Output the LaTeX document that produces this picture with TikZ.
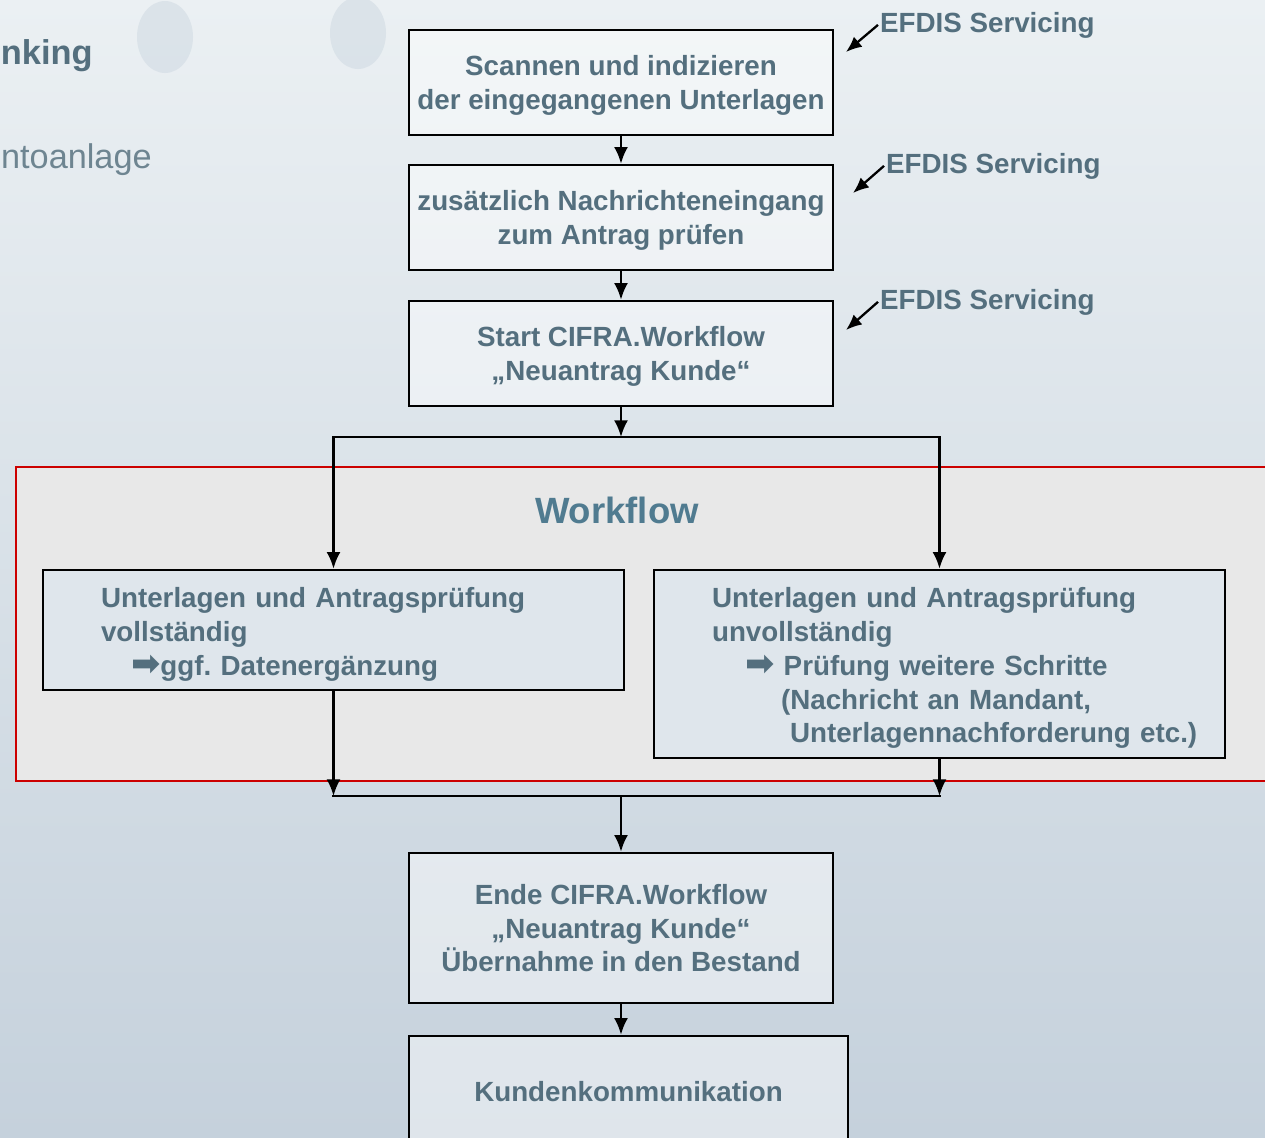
\documentclass[tikz,border=0pt]{standalone}
\usepackage{fontspec}
\setmainfont{Liberation Sans}
\newfontfamily\arrowfont{DejaVu Sans}
\usetikzlibrary{arrows.meta}

\definecolor{bgtop}{RGB}{235,240,243}
\definecolor{bgbottom}{RGB}{197,209,220}
\definecolor{slate}{RGB}{84,111,126}
\definecolor{wftitle}{RGB}{80,123,144}
\definecolor{wfgray}{RGB}{232,232,232}
\definecolor{wfbox}{RGB}{223,230,236}
\definecolor{frame}{RGB}{204,0,0}

\newcommand{\goarrow}{{\arrowfont\fontsize{20}{19.3}\selectfont ➡}}

\tikzset{
	boxfont/.style={font=\bfseries\fontsize{15.8}{19.3}\selectfont\frenchspacing},
	stepbox/.style={draw=black, line width=1.5pt, fill=white, fill opacity=0.45,
		text opacity=1, text=slate, boxfont, align=center, inner sep=0pt,
		text depth=0pt, minimum width=8.48cm},
	checkbox/.style={draw=black, line width=1.5pt, fill=wfbox, text=slate, boxfont,
		align=left, inner sep=0pt, text height=16pt},
	tag/.style={text=slate, boxfont, inner sep=1pt},
	flow/.style={line width=1.4pt, ->},
	link/.style={line width=1.4pt, line cap=rect},
	pointer/.style={line width=1.3pt, -{Latex[length=9pt,width=7.5pt]}}
}

\begin{document}
\begin{tikzpicture}[x=0.02cm, y=-0.02cm, >={Latex[length=9.5pt,width=8pt]}]
	\useasboundingbox (0,0) rectangle (1265,1137);
	
	% Background
	\shade[top color=bgtop, bottom color=bgbottom] (0,0) rectangle (1265,1137);
	\fill[bgbottom, opacity=0.4] (165,37) ellipse [x radius=28, y radius=36];
	\fill[bgbottom, opacity=0.4] (358,33) ellipse [x radius=28, y radius=36];
	
	% Title fragments on the left
	\node[anchor=base east, text=slate, inner sep=0pt,
		font=\bfseries\fontsize{19.6}{23}\selectfont] (title) at (93,64) {nking};
	\node[anchor=base east, text=slate!85!white, inner sep=0pt,
		font=\fontsize{19.5}{23}\selectfont] (subtitle) at (152,168) {ntoanlage};
	
	% Workflow frame
	\draw[frame, line width=1.4pt, fill=wfgray] (16,467) rectangle (1290,781);
	\node[text=wftitle, font=\bfseries\fontsize{20.8}{25}\selectfont] (wfname) at (617,510) {Workflow};
	
	% Steps
	\node[stepbox, minimum height=2.1cm] (scan) at (621,82.5)
		{Scannen und indizieren\\der eingegangenen Unterlagen};
	\node[stepbox, minimum height=2.1cm] (check) at (621,217.5)
		{zusätzlich Nachrichteneingang\\zum Antrag prüfen};
	\node[stepbox, minimum height=2.1cm] (start) at (621,353.5)
		{Start CIFRA.Workflow\\„Neuantrag Kunde“};
	
	\node[checkbox, text width=11.62cm, minimum height=2.4cm] (voll) at (333.5,630)
		{\hspace*{1.16cm}Unterlagen und Antragsprüfung\\
		 \hspace*{1.16cm}vollständig\\
		 \hspace*{1.76cm}\goarrow ggf. Datenergänzung};
	\node[checkbox, text width=11.42cm, minimum height=3.76cm] (unvoll) at (939.5,664)
		{\hspace*{1.16cm}Unterlagen und Antragsprüfung\\
		 \hspace*{1.16cm}unvollständig\\
		 \hspace*{1.82cm}\goarrow\ Prüfung weitere Schritte\\
		 \hspace*{2.54cm}(Nachricht an Mandant,\\
		 \hspace*{2.72cm}Unterlagennachforderung etc.)};
	
	\node[stepbox, minimum height=3cm] (ende) at (621,928)
		{Ende CIFRA.Workflow\\„Neuantrag Kunde“\\Übernahme in den Bestand};
	\node[stepbox, minimum width=8.78cm, minimum height=2.2cm] (kunde) at (628.5,1091)
		{Kundenkommunikation};
	
	% Branch and join points
	\coordinate (split) at (621,437);
	\coordinate (splitL) at (333.5,437);
	\coordinate (splitR) at (939.5,437);
	\coordinate (joinL) at (333.5,796);
	\coordinate (joinR) at (939.5,796);
	\coordinate (join) at (621,796);
	
	% Connectors
	\draw[flow] (scan) -- (check);
	\draw[flow] (check) -- (start);
	\draw[flow] (start) -- (split);
	\draw[link] (splitL) -- (splitR);
	\draw[flow] (splitL) -- (voll);
	\draw[flow] (splitR) -- (unvoll);
	\draw[flow] (voll) -- (joinL);
	\draw[flow] (unvoll) -- (joinR);
	\draw[link] (joinL) -- (joinR);
	\draw[flow] (join) -- (ende);
	\draw[flow] (ende.south) -- (ende.south |- kunde.north);
	
	% Responsibility tags
	\node[tag, anchor=base west] (efdisA) at (878,32) {EFDIS Servicing};
	\node[tag, anchor=base west] (efdisB) at (884,173) {EFDIS Servicing};
	\node[tag, anchor=base west] (efdisC) at (878,309) {EFDIS Servicing};
	\coordinate (tipA) at (846,52);
	\coordinate (tipB) at (853,193);
	\coordinate (tipC) at (846,330);
	\draw[pointer] (efdisA.west) -- (tipA);
	\draw[pointer] (efdisB.west) -- (tipB);
	\draw[pointer] (efdisC.west) -- (tipC);
	
\end{tikzpicture}
\end{document}
